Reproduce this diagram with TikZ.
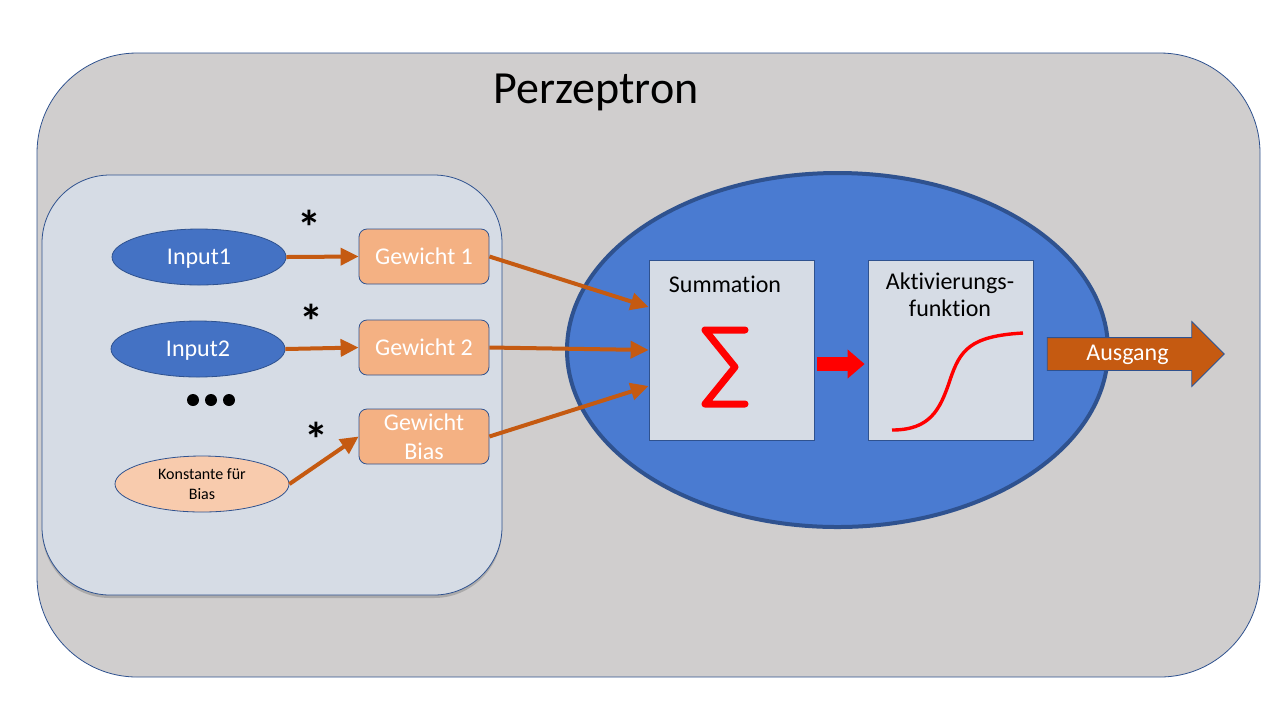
\documentclass[tikz,border=0pt]{standalone}
\usepackage{fontspec}
\setmainfont{Carlito}[Ligatures=NoCommon]
\usetikzlibrary{shapes.geometric, shapes.arrows, arrows.meta, shadows}
\definecolor{framegray}{HTML}{D0CECE}
\definecolor{panelblue}{HTML}{D6DCE5}
\definecolor{inputblue}{HTML}{4472C4}
\definecolor{edgeblue}{HTML}{2F528F}
\definecolor{neuronblue}{HTML}{4A7BD1}
\definecolor{weightpeach}{HTML}{F4B183}
\definecolor{biaspeach}{HTML}{F8CBAD}
\definecolor{rust}{HTML}{C55A11}

\begin{document}
\begin{tikzpicture}[x=0.5pt, y=-0.5pt,
        inputnode/.style={ellipse, draw=edgeblue, line width=0.4pt, minimum width=87pt, minimum height=28pt, inner sep=0pt},
        weightbox/.style={rectangle, rounded corners=4pt, draw=edgeblue, line width=0.4pt, fill=weightpeach, text=white,
            minimum width=65pt, minimum height=27.5pt, inner sep=0pt, align=center, font=\fontsize{12}{14.5}\selectfont},
        stepblock/.style={rectangle, draw=edgeblue, line width=0.4pt, fill=panelblue, minimum width=82.5pt, minimum height=90pt},
        feed/.style={draw=rust, line width=2pt, -{Triangle[length=9pt, width=8.5pt]}},
        mult/.style={font=\fontsize{24}{24}\selectfont\bfseries}]
                \useasboundingbox (0,0) rectangle (1280,720);

                \node[rectangle, rounded corners=50pt, draw=edgeblue, line width=0.4pt, fill=framegray,
                    minimum width=611.5pt, minimum height=312pt] at (648.5,365) (frame) {};
                \node[font=\fontsize{23}{28}\selectfont] at (596,92) (title) {Perzeptron};

                \node[rectangle, rounded corners=34pt, draw=edgeblue, line width=0.4pt, fill=panelblue,
                    drop shadow={shadow xshift=0pt, shadow yshift=-1.5pt, opacity=0.45},
                    minimum width=230pt, minimum height=210pt] at (272,385) (panel) {};

                \node[inputnode, fill=inputblue, text=white, text depth=0pt, font=\fontsize{12}{14}\selectfont] at (199,257) (in1) {Input1};
                \node[inputnode, fill=inputblue, text=white, text depth=0pt, font=\fontsize{12}{14}\selectfont] at (198,349) (in2) {Input2};
                \node[inputnode, fill=biaspeach, align=center, font=\fontsize{8}{10}\selectfont] at (202,484) (const) {Konstante für\\Bias};
                \foreach \x in {193,211,229}
                    \fill (\x,400) circle (3pt);

                \node[weightbox] at (424,256.5) (w1) {Gewicht 1};
                \node[weightbox] at (424,347.5) (w2) {Gewicht 2};
                \node[weightbox] at (424,436.5) (wb) {Gewicht\\Bias};

                \node[mult] at (309,227) (m1) {*};
                \node[mult] at (311,321) (m2) {*};
                \node[mult] at (316,439) (m3) {*};

                \draw[feed] (in1.east) -- (w1.west);
                \draw[feed] (in2.east) -- (w2.west);
                \draw[feed] (const.east) -- (wb.west);

                \node[ellipse, draw=edgeblue, line width=2pt, fill=neuronblue,
                    minimum width=270.5pt, minimum height=177pt] at (837.5,350) (neuron) {};

                \node[stepblock] at (731.5,350) (sum) {};
                \node[stepblock] at (950.5,350) (act) {};
                \node[font=\fontsize{12}{14}\selectfont] at (725,284) (sumlabel) {Summation};
                \node[font=\fontsize{12}{13.5}\selectfont, align=center] at (950,295) (actlabel) {Aktivierungs-\\funktion};

                \draw[red, line width=3.5pt, line join=round, line cap=round]
                    (745,330) -- (705,330) -- (735,367) -- (705,404) -- (745,404);
                \draw[red, line width=1.7pt]
                    (892,430) .. controls (930,430) and (940,410) .. (950,380)
                    .. controls (960,350) and (970,336) .. (1023,333);

                \draw[feed] (w1.east) -- ([yshift=21.5pt]sum.west);
                \draw[feed] (w2.east) -- (sum.west);
                \draw[feed] (wb.east) -- ([yshift=-18pt]sum.west);

                \draw[red, line width=7pt, -{Triangle[length=8.5pt, width=14pt]}]
                    ([xshift=1.5pt, yshift=-7pt]sum.east) -- ([xshift=-1.5pt, yshift=-7pt]act.west);

                \node[single arrow, draw=edgeblue, line width=0.4pt, fill=rust, text=white,
                    font=\fontsize{12}{14}\selectfont, minimum height=88.5pt, single arrow head extend=8pt,
                    inner xsep=2pt, inner ysep=2.5pt, text height=8.5pt, text depth=2.5pt] at (1127.5,354) (out) {Ausgang};
            \end{tikzpicture}
\end{document}
